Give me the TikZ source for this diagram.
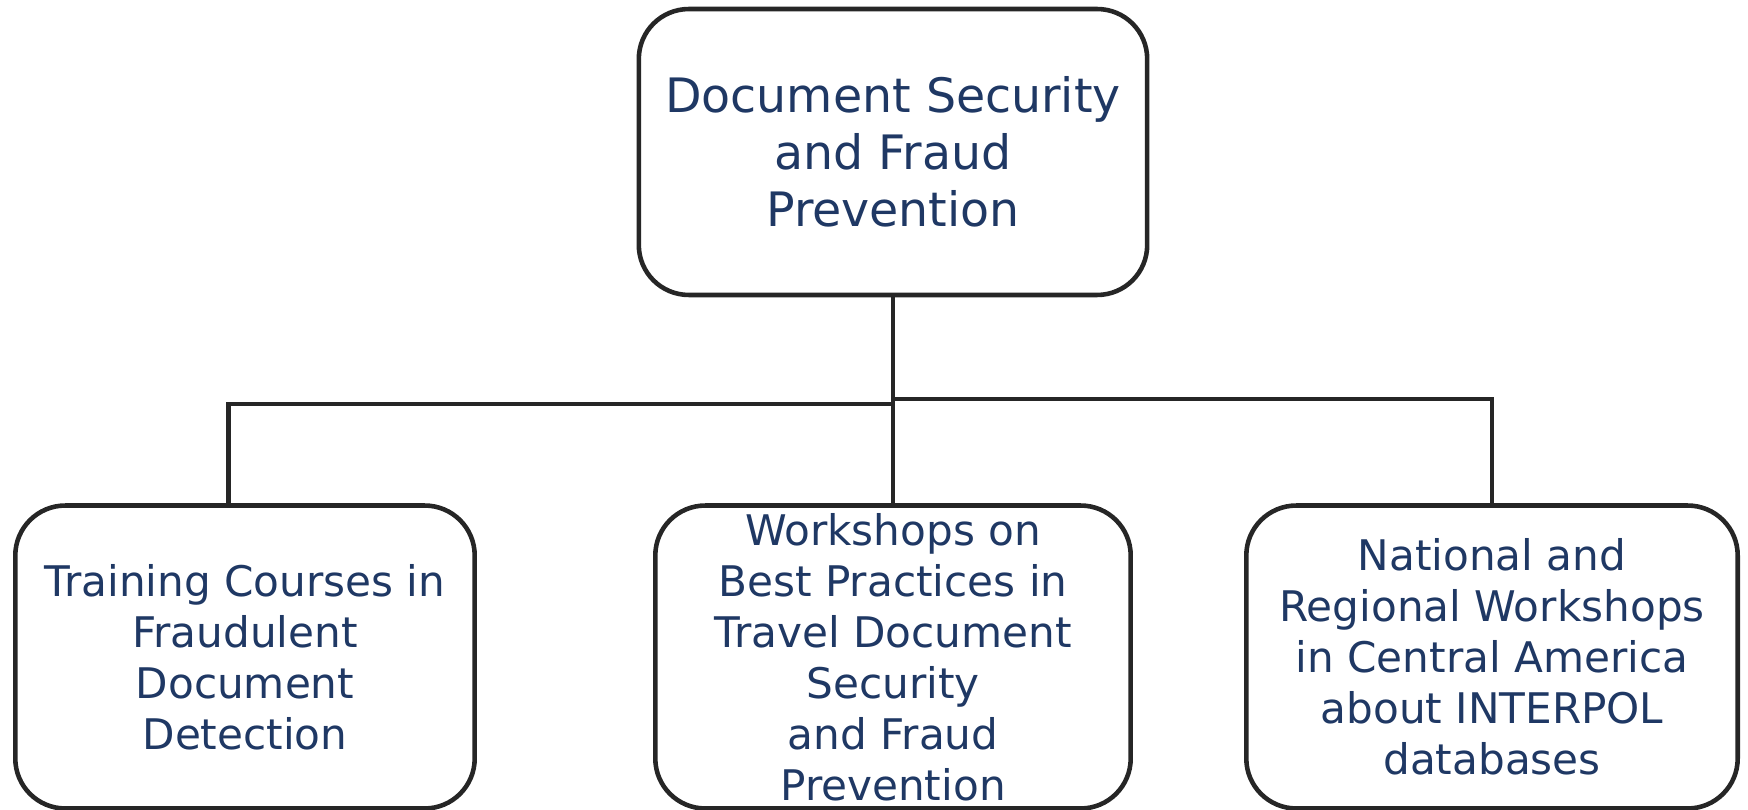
\documentclass[tikz,border=0pt]{standalone}
\usepackage{fontspec}
\setmainfont{DejaVu Sans}

\definecolor{txtblue}{RGB}{31,56,100}
\definecolor{edge}{RGB}{38,38,38}

\tikzstyle{box} = [draw=edge, line width=2.6pt, rounded corners=1cm, fill=white, text=txtblue, align=center, inner sep=0pt]
\tikzstyle{bigtxt} = [font={\fontsize{27}{32.4}\selectfont}]
\tikzstyle{smalltxt} = [font={\fontsize{24}{29}\selectfont}]
\tikzstyle{link} = [draw=edge, line width=2.3pt]

\begin{document}
\begin{tikzpicture}[x=0.02cm, y=-0.02cm]

\useasboundingbox (0,0) rectangle (1748,810);

% TOP
\node[box, bigtxt, minimum width=10.17cm, minimum height=5.72cm] (top) at (893,152)
  {Document Security\\and Fraud\\Prevention};

% BOTTOM ROW
\node[box, smalltxt, minimum width=9.19cm, minimum height=6.06cm] (left) at (245,657)
  {Training Courses in\\Fraudulent\\Document\\Detection};
\node[box, smalltxt, minimum width=9.51cm, minimum height=6.06cm] (mid) at (893,657)
  {Workshops on\\Best Practices in\\Travel Document\\Security\\and Fraud\\Prevention};
\node[box, smalltxt, minimum width=9.83cm, minimum height=6.06cm] (right) at (1492,657)
  {National and\\Regional Workshops\\in Central America\\about INTERPOL\\databases};

% LINKS
\coordinate (jl) at (893,404);
\coordinate (jr) at (893,399);
\draw[link] (top.south) -- (jl) -| ([xshift=-0.33cm]left.north);
\draw[link] (jr) -| (right.north);
\draw[link] (jr) -- (mid.north);

\end{tikzpicture}
\end{document}
